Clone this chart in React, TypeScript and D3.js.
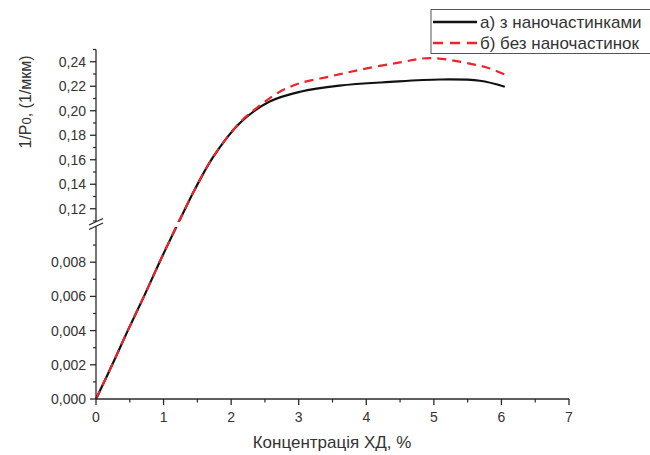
import React from "react";
import * as d3 from "d3";

// Data
const lowerX = [0, 0.24, 0.47, 0.71, 0.94, 1.18];
const lowerY = [0, 0.002, 0.004, 0.006, 0.008, 0.010];

const seriesAX = [1.24, 1.46, 1.73, 2.13, 2.57, 3.02, 3.6, 4.35, 5.09, 5.68, 6.05];
const seriesAY = [0.111, 0.1355, 0.162, 0.19, 0.2075, 0.2155, 0.2205, 0.2235, 0.2255, 0.2245, 0.2196];

const seriesBX = [1.24, 1.46, 1.73, 2.13, 2.43, 2.72, 3.02, 3.46, 3.91, 4.5, 4.94, 5.53, 5.83, 6.05];
const seriesBY = [0.111, 0.1355, 0.162, 0.1905, 0.2045, 0.2155, 0.2225, 0.228, 0.2335, 0.2395, 0.243, 0.2385, 0.2345, 0.2295];

const legendLabels = ["а) з наночастинками", "б) без наночастинок"];
const xTicks = [0, 1, 2, 3, 4, 5, 6, 7];
const yTicksLow = [0, 0.002, 0.004, 0.006, 0.008];
const yTicksHigh = [0.12, 0.14, 0.16, 0.18, 0.2, 0.22, 0.24];

const fmtLow = (v: number) => v.toFixed(3).replace(".", ",");
const fmtHigh = (v: number) => v.toFixed(2).replace(".", ",");

export default function App() {
  const W = 650, H = 455;
  const x = d3.scaleLinear().domain([0, 7]).range([96, 569]);
  const yLow = d3.scaleLinear().domain([0, 0.01]).range([399, 228]);
  const yHigh = d3.scaleLinear().domain([0.11, 0.25]).range([221, 49.5]);
  const y = (v: number) => (v <= 0.0105 ? yLow(v) : yHigh(v));

  const ptsA = [...lowerX.map((d, i) => [d, lowerY[i]]), ...seriesAX.map((d, i) => [d, seriesAY[i]])];
  const ptsB = [...lowerX.map((d, i) => [d, lowerY[i]]), ...seriesBX.map((d, i) => [d, seriesBY[i]])];
  const line = d3
    .line<number[]>()
    .x((d) => x(d[0]))
    .y((d) => y(d[1]))
    .curve(d3.curveCatmullRom.alpha(0.5));

  const axisColor = "#2a2a2a";
  const textColor = "#333";
  const font = "Liberation Sans, Arial, sans-serif";

  const xMinor = d3.range(0.5, 7, 1);
  const yMinorLow = d3.range(0.001, 0.0101, 0.002);
  const yMinorHigh = d3.range(0.11, 0.2501, 0.02);

  return (
    <svg width={W} height={H} style={{ position: "absolute", left: 0, top: 0, background: "#fff" }}>
      <defs>
        <clipPath id="brk">
          <rect x={0} y={0} width={W} height={222} />
          <rect x={0} y={227} width={W} height={H} />
        </clipPath>
      </defs>
      <rect x={0} y={0} width={W} height={H} fill="#fff" />

      {/* curves */}
      <g clipPath="url(#brk)">
        <path d={line(ptsA) || ""} fill="none" stroke="#111" strokeWidth={2.2} />
        <path d={line(ptsB) || ""} fill="none" stroke="#f0222a" strokeWidth={2.2} strokeDasharray="9,6" />
      </g>

      {/* x axis */}
      <line x1={96} x2={569} y1={399} y2={399} stroke={axisColor} strokeWidth={1.3} />
      {xTicks.map((t) => (
        <g key={"xt" + t}>
          <line x1={x(t)} x2={x(t)} y1={399} y2={405} stroke={axisColor} strokeWidth={1.3} />
          <text x={x(t)} y={422} textAnchor="middle" fontFamily={font} fontSize={14} fill={textColor}>
            {t}
          </text>
        </g>
      ))}
      {xMinor.map((t) => (
        <line key={"xm" + t} x1={x(t)} x2={x(t)} y1={399} y2={402.5} stroke={axisColor} strokeWidth={1.2} />
      ))}

      {/* y axis lower */}
      <line x1={96} x2={96} y1={399} y2={226.5} stroke={axisColor} strokeWidth={1.3} />
      {yTicksLow.map((t) => (
        <g key={"yl" + t}>
          <line x1={90} x2={96} y1={yLow(t)} y2={yLow(t)} stroke={axisColor} strokeWidth={1.3} />
          <text x={86} y={yLow(t) + 5} textAnchor="end" fontFamily={font} fontSize={14} fill={textColor}>
            {fmtLow(t)}
          </text>
        </g>
      ))}
      {yMinorLow.map((t) => (
        <line key={"ylm" + t} x1={93} x2={96} y1={yLow(t)} y2={yLow(t)} stroke={axisColor} strokeWidth={1.2} />
      ))}

      {/* y axis upper */}
      <line x1={96} x2={96} y1={222} y2={49.5} stroke={axisColor} strokeWidth={1.3} />
      {yTicksHigh.map((t) => (
        <g key={"yh" + t}>
          <line x1={90} x2={96} y1={yHigh(t)} y2={yHigh(t)} stroke={axisColor} strokeWidth={1.3} />
          <text x={86} y={yHigh(t) + 5} textAnchor="end" fontFamily={font} fontSize={14} fill={textColor}>
            {fmtHigh(t)}
          </text>
        </g>
      ))}
      {yMinorHigh.map((t) => (
        <line key={"yhm" + t} x1={93} x2={96} y1={yHigh(t)} y2={yHigh(t)} stroke={axisColor} strokeWidth={1.2} />
      ))}

      {/* break marks */}
      <line x1={89} x2={103} y1={225} y2={218.5} stroke={axisColor} strokeWidth={1.3} />
      <line x1={89} x2={103} y1={229.5} y2={223} stroke={axisColor} strokeWidth={1.3} />

      {/* axis titles */}
      <text x={332} y={448} textAnchor="middle" fontFamily={font} fontSize={17} fill={textColor}>
        Концентрація ХД, %
      </text>
      <text
        transform="translate(31,102) rotate(-90)"
        textAnchor="middle"
        fontFamily={font}
        fontSize={16}
        fill={textColor}
      >
        1/P<tspan fontSize={13}>0</tspan>, (1/мкм)
      </text>

      {/* legend */}
      <rect x={431} y={9.5} width={230} height={44} fill="#fff" stroke="#555" strokeWidth={1} />
      <line x1={433} x2={477} y1={22} y2={22} stroke="#111" strokeWidth={2.4} />
      <line x1={433} x2={477} y1={43} y2={43} stroke="#f0222a" strokeWidth={2.4} strokeDasharray="10,7" />
      <text x={480} y={28} fontFamily={font} fontSize={17} fill={textColor}>
        {legendLabels[0]}
      </text>
      <text x={480} y={49} fontFamily={font} fontSize={17} fill={textColor}>
        {legendLabels[1]}
      </text>
    </svg>
  );
}
